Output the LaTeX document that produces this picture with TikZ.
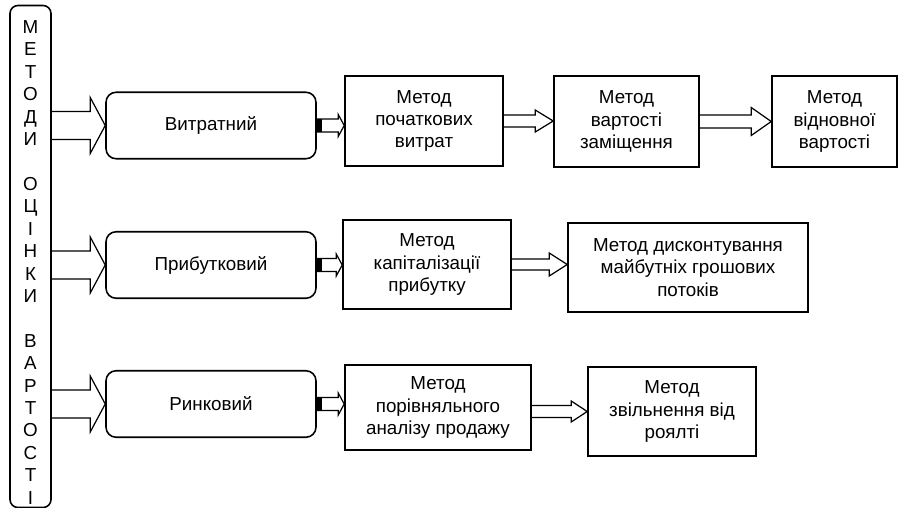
\documentclass[tikz,border=0pt]{standalone}
\usepackage{fontspec}
\setmainfont{Liberation Sans}
\usetikzlibrary{calc}

% hollow block arrow: from, to, node giving the height, shaft half, head half, head length
\newcommand{\blockarrow}[6]{%
  \draw[arrowDecorate] ($(#1.east |- #3)+(0,#4)$) -- ($(#2.west |- #3)+(-#6,#4)$)
    -- ($(#2.west |- #3)+(-#6,#5)$) -- (#2.west |- #3) -- ($(#2.west |- #3)+(-#6,-#5)$)
    -- ($(#2.west |- #3)+(-#6,-#4)$) -- ($(#1.east |- #3)+(0,-#4)$);
}

\begin{document}
\begin{tikzpicture}
[x=0.02cm, y=-0.02cm,
 font=\fontsize{10.7pt}{12.75pt}\selectfont,
 arrowDecorate/.style={line width=0.7pt, line join=miter},
 boxDecorate/.style={shape=rectangle, draw, line width=0.9pt, align=center, inner sep=2pt},
 roundDecorate/.style={shape=rectangle, draw, line width=0.9pt, rounded corners=0.2cm, minimum width=4.2cm, minimum height=1.33cm}]

\useasboundingbox (0,0) rectangle (899,507);

\node (Ocinka) at (30.5,256.5) [boxDecorate, rounded corners=0.16cm, minimum width=0.82cm, minimum height=9.98cm]
  {\rule{0pt}{14pt}М\\Е\\Т\\О\\Д\\И\\\mbox{}\\О\\Ц\\І\\Н\\К\\И\\\mbox{}\\В\\А\\Р\\Т\\О\\С\\Т\\І};

 \foreach \nodename/\ypos/\txt in {
1/125.5/Витратний,
2/265/Прибутковий,
3/404/Ринковий
 }
 {
          \node (R\nodename) at (211,\ypos) [roundDecorate] {\txt};
 }

\node (M11) at (424,121) [boxDecorate, minimum width=3.16cm, minimum height=1.8cm] {Метод\\початкових\\витрат};
\node (M12) at (626.5,121.5) [boxDecorate, minimum width=2.9cm, minimum height=1.82cm] {Метод\\вартості\\заміщення};
\node (M13) at (834.5,121.5) [boxDecorate, minimum width=2.5cm, minimum height=1.82cm] {Метод\\відновної\\вартості};
\node (M21) at (427,264.5) [boxDecorate, minimum width=3.36cm, minimum height=1.78cm] {Метод\\капіталізації\\прибутку};
\node (M22) at (688,267.5) [boxDecorate, minimum width=4.8cm, minimum height=1.78cm] {Метод дисконтування\\майбутніх грошових\\потоків};
\node (M31) at (438,407.5) [boxDecorate, minimum width=3.72cm, minimum height=1.7cm] {Метод\\порівняльного\\аналізу продажу};
\node (M32) at (672,411.5) [boxDecorate, minimum width=3.36cm, minimum height=1.78cm] {Метод\\звільнення від\\роялті};

\foreach \endnode in {R1,R2,R3}
        {
          \blockarrow{Ocinka}{\endnode}{\endnode}{14}{28}{15}
        }

\foreach \startnode/\endnode/\refnode/\shaft/\head/\len in {R1/M11/R1/6.5/11/6, M11/M12/M11/6/11/18, M12/M13/M12/6.5/14/20,
R2/M21/R2/6.5/11/6, M21/M22/M21/5.5/11.5/18,
R3/M31/R3/6.5/11/6, M31/M32/M32/6/10.5/16}
        {
          \blockarrow{\startnode}{\endnode}{\refnode}{\shaft}{\head}{\len}
        }

\foreach \startnode in {R1,R2,R3}
        {
          \fill ($(\startnode.east)+(0,-6.5)$) rectangle ($(\startnode.east)+(5,6.5)$);
        }
        \end{tikzpicture}
\end{document}
